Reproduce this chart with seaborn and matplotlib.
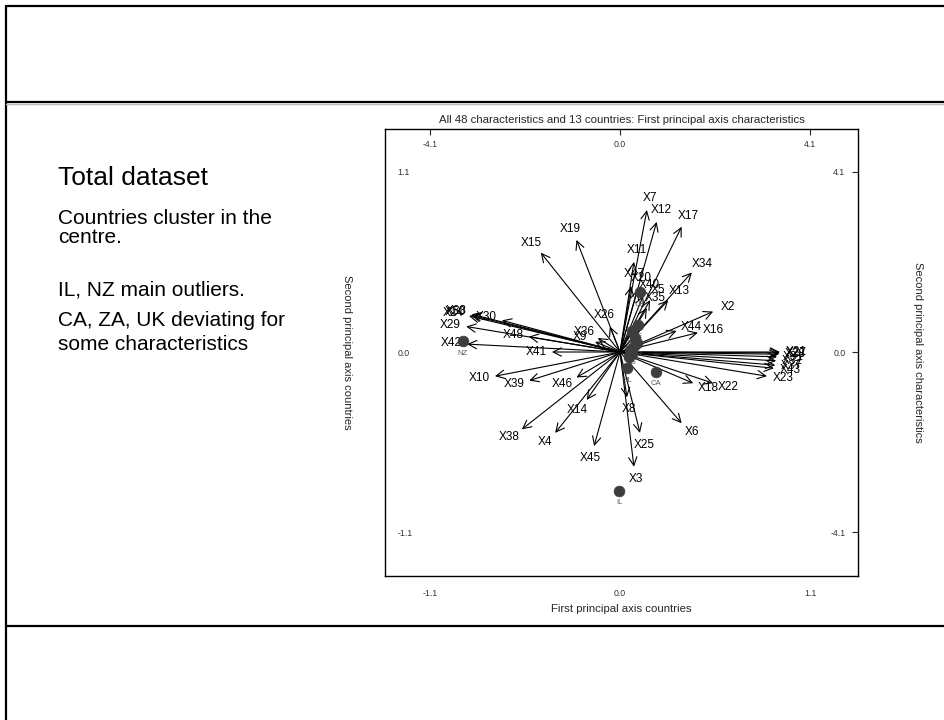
import numpy as np
import pandas as pd
import matplotlib
matplotlib.use("Agg")
import matplotlib.pyplot as plt
from matplotlib.lines import Line2D
import seaborn as sns

# ---------------- data ----------------
# characteristics (arrows), in characteristic-axis units (+-4.1 scale)
char_names = ["X7", "X12", "X17", "X19", "X15", "X11", "X34", "X47", "X20", "X40",
              "X5", "X13", "X2", "X16", "X44", "X35", "X26", "X36", "X9", "X48",
              "X50", "X33", "X24", "X30", "X29", "X42", "X41", "X10", "X39", "X46",
              "X14", "X38", "X4", "X45", "X8", "X25", "X3", "X6", "X18", "X22",
              "X23", "X21", "X27", "X28", "X31", "X32", "X37", "X43"]
char_x = [0.58, 0.79, 1.33, -0.94, -1.71, 0.30, 1.55, 0.24, 0.37, 0.50,
          0.65, 1.04, 2.01, 1.68, 1.22, 0.58, -0.22, -0.48, -0.54, -1.97,
          -3.22, -3.20, -3.26, -2.55, -3.32, -3.30, -1.47, -2.70, -1.96, -0.94,
          -0.72, -2.12, -1.40, -0.56, 0.15, 0.43, 0.30, 1.33, 1.58, 2.01,
          3.17, 3.45, 3.45, 3.43, 3.39, 3.37, 3.35, 3.32]
char_y = [3.23, 2.96, 2.85, 2.55, 2.26, 2.05, 1.81, 1.50, 1.41, 1.28,
          1.18, 1.18, 0.92, 0.44, 0.48, 1.00, 0.58, 0.32, 0.23, 0.35,
          0.84, 0.86, 0.82, 0.72, 0.58, 0.18, 0.00, -0.55, -0.65, -0.58,
          -1.09, -1.76, -1.84, -2.14, -1.03, -1.84, -2.61, -1.62, -0.71, -0.71,
          -0.55, 0.00, -0.02, -0.05, -0.11, -0.20, -0.30, -0.37]

# countries (points), in country-axis units (+-1.1 scale)
countries = ["NZ", "UK", "IL", "NL", "CA", "ZA", "DE", "FR", "IT", "JP", "SE", "US", "AU"]
country_x = [-0.91, 0.116, -0.006, 0.041, 0.208, 0.069, 0.087, 0.098, 0.058, 0.069, 0.104, 0.052, 0.081]
country_y = [0.067, 0.366, -0.848, -0.098, -0.122, 0.128, 0.085, 0.055, 0.012, -0.006, 0.165, -0.031, 0.035]

country_ticks = [-1.1, 0.0, 1.1]
char_ticks = [-4.1, 0.0, 4.1]

title = "All 48 characteristics and 13 countries: First principal axis characteristics"
xlabel = "First principal axis countries"
ylabel_left = "Second principal axis countries"
ylabel_right = "Second principal axis characteristics"
side_title = "Total dataset"
side_lines = ["Countries cluster in the", "centre.", "IL, NZ main outliers.",
              "CA, ZA, UK deviating for", "some characteristics"]

# ---------------- style ----------------
sns.set_style("white")
plt.rcParams["font.family"] = ["Liberation Sans", "DejaVu Sans"]

W, H = 944, 720
fig = plt.figure(figsize=(W / 100, H / 100), dpi=100)

# slide frame lines
lk = dict(color="black", lw=1.6, transform=fig.transFigure)
fig.add_artist(Line2D([6 / W, 1], [1 - 6 / H, 1 - 6 / H], **lk))
fig.add_artist(Line2D([6 / W, 6 / W], [0, 1 - 6 / H], **lk))
fig.add_artist(Line2D([6 / W, 1], [1 - 102 / H, 1 - 102 / H], **lk))
fig.add_artist(Line2D([6 / W, 1], [1 - 104 / H, 1 - 104 / H], color="#bbbbbb", lw=1.0,
                      transform=fig.transFigure))
fig.add_artist(Line2D([6 / W, 1], [1 - 626 / H, 1 - 626 / H], **lk))

# left text block
fig.text(58 / W, 1 - 185 / H, side_title, fontsize=19, va="baseline", ha="left", color="black")
for txt, b in zip(side_lines, [224, 243, 296, 326, 350]):
    fig.text(58 / W, 1 - b / H, txt, fontsize=15, va="baseline", ha="left", color="black")

# axes geometry
pos = [385 / W, 1 - 576 / H, (858 - 385) / W, (576 - 129) / H]
k = 4.1 / 1.1
xlim = (-1.361, 1.378)
ylim = (-1.367, 1.361)

ax2 = fig.add_axes(pos)  # characteristics axes (top/right)
ax = fig.add_axes(pos)   # countries axes (bottom/left)
ax.set_zorder(3)
ax.patch.set_alpha(0)
ax2.set_zorder(2)

ax.set_xlim(*xlim)
ax.set_ylim(*ylim)
ax2.set_xlim(xlim[0] * k, xlim[1] * k)
ax2.set_ylim(ylim[0] * k, ylim[1] * k)

for s in ax2.spines.values():
    s.set_visible(False)
for s in ax.spines.values():
    s.set_linewidth(1.0)
    s.set_color("black")

# countries ticks
ax.set_xticks(country_ticks)
ax.set_yticks(country_ticks)
ax.set_xticklabels([f"{t:.1f}" for t in country_ticks])
ax.set_yticklabels([f"{t:.1f}" for t in country_ticks])
ax.tick_params(axis="x", direction="out", length=4, width=0.8, pad=5, labelsize=6.3,
               labelcolor="#333333")
ax.tick_params(axis="y", direction="in", length=4, width=0.8, pad=-9, labelsize=6.3,
               labelcolor="#333333")
for lab in ax.get_yticklabels():
    lab.set_ha("left")

# characteristics ticks
ax2.xaxis.tick_top()
ax2.yaxis.tick_right()
ax2.set_xticks(char_ticks)
ax2.set_yticks(char_ticks)
ax2.set_xticklabels([f"{t:.1f}" for t in char_ticks])
ax2.set_yticklabels([f"{t:.1f}" for t in char_ticks])
ax2.tick_params(axis="x", direction="in", length=4, width=0.8, pad=-8, labelsize=6.3,
                labelcolor="#333333")
ax2.tick_params(axis="y", direction="in", length=4, width=0.8, pad=-9, labelsize=6.3,
                labelcolor="#333333")
for lab in ax2.get_xticklabels():
    lab.set_va("top")
for lab in ax2.get_yticklabels():
    lab.set_ha("right")

# labels
ax.set_title(title, fontsize=8.2, pad=4)
ax.set_ylabel(ylabel_left, fontsize=8, rotation=-90, labelpad=27, va="center")
ax2.set_ylabel(ylabel_right, fontsize=8, rotation=-90, labelpad=47, va="center")
ax2.yaxis.set_label_position("right")

# arrows
fig.canvas.draw()
origin = ax2.transData.transform((0, 0))
for name, cx, cy in zip(char_names, char_x, char_y):
    ax2.annotate("", xy=(cx, cy), xytext=(0, 0),
                 arrowprops=dict(arrowstyle="->", lw=0.8, color="black",
                                 shrinkA=0, shrinkB=0, mutation_scale=15))
    d = ax2.transData.transform((cx, cy)) - origin
    n = np.hypot(*d)
    ux, uy = d / n if n > 0 else (0, 0)
    ax2.annotate(name, xy=(cx, cy), xytext=(ux * 16, uy * 12), textcoords="offset pixels",
                 ha="center", va="center", fontsize=8.5, color="black")

# countries
df = pd.DataFrame({"x": country_x, "y": country_y, "country": countries})
sns.scatterplot(data=df, x="x", y="y", ax=ax, s=60, color="#3d3d3d", edgecolor="#3d3d3d",
                linewidth=0.5, legend=False, zorder=5)
for c, x, y in zip(countries, country_x, country_y):
    ax.annotate(c, xy=(x, y), xytext=(0, -12), textcoords="offset pixels",
                ha="center", va="center", fontsize=5.5, color="#555555")

ax.set_xlabel(xlabel, fontsize=8.2, labelpad=5)
fig.savefig("out.png", dpi=100, facecolor="white")
